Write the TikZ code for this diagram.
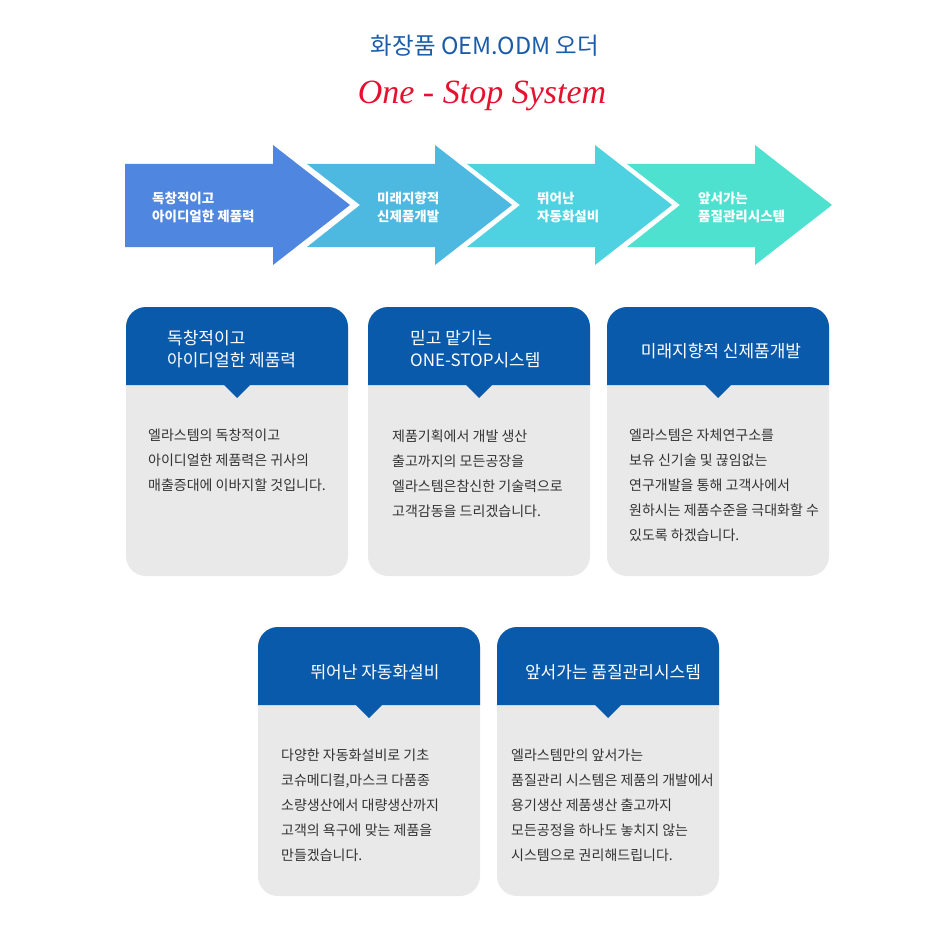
\documentclass[tikz,border=0pt]{standalone}
\usepackage{fontspec}
\setmainfont{Noto Sans CJK KR}
\newfontfamily\titleserif{Liberation Serif}
\usetikzlibrary{positioning}
\definecolor{navy}{HTML}{0A5AAB}
\definecolor{titleBlue}{HTML}{1B5CA8}
\definecolor{stopRed}{HTML}{E5112F}
\definecolor{arrowA}{HTML}{4F86DF}
\definecolor{arrowB}{HTML}{4DB8E0}
\definecolor{arrowC}{HTML}{4ED2E2}
\definecolor{arrowD}{HTML}{4FE1D0}
\definecolor{cardGray}{HTML}{E9E9E9}
\definecolor{ink}{HTML}{333333}

\begin{document}
\begin{tikzpicture}[x=1pt,y=-1pt,
  arrtxt/.style={text=white,font=\fontsize{13.5}{18}\selectfont\bfseries,
                 align=left,anchor=west,inner sep=0pt},
  card/.style={fill=cardGray,rounded corners=20pt,minimum width=222pt,
               minimum height=269pt,inner sep=0pt},
  head/.style={fill=navy},
  headtxt/.style={text=white,font=\fontsize{17}{22}\selectfont,align=left,inner sep=0pt},
  bodytxt/.style={text=ink,font=\fontsize{14}{25}\selectfont,align=left,
                  anchor=north west,inner sep=0pt}
]
  \useasboundingbox[fill=white] (0,0) rectangle (952,952);

  % title
  \node[text=titleBlue,font=\fontsize{23.5}{26}\selectfont] (title) at (485,46) {화장품 OEM.ODM 오더};
  \node[text=stopRed,font=\titleserif\itshape\fontsize{34}{38}\selectfont,anchor=base] (slogan) at (482,104) {One - Stop System};

  % process arrows
  \fill[arrowA] (125,164) -- (273,164) -- (273,145) -- (350,205) -- (273,265) -- (273,247) -- (125,247) -- cycle;
  \fill[arrowB] (307,164) -- (435,164) -- (435,145) -- (512,205) -- (435,265) -- (435,247) -- (307,247) -- (360,205) -- cycle;
  \fill[arrowC] (467,164) -- (595,164) -- (595,145) -- (672,205) -- (595,265) -- (595,247) -- (467,247) -- (520,205) -- cycle;
  \fill[arrowD] (627,164) -- (755,164) -- (755,145) -- (832,205) -- (755,265) -- (755,247) -- (627,247) -- (680,205) -- cycle;

  \node[arrtxt] (a1) at (152,207) {독창적이고\\아이디얼한 제품력};
  \node[arrtxt] (a2) at (377,207) {미래지향적\\신제품개발};
  \node[arrtxt] (a3) at (537,207) {뛰어난\\자동화설비};
  \node[arrtxt] (a4) at (698,207) {앞서가는\\품질관리시스템};

  % cards
  \node[card] (card1) at (237,441.5) {};
  \node[card] (card2) at (479,441.5) {};
  \node[card] (card3) at (718,441.5) {};
  \node[card] (card4) at (369,761.5) {};
  \node[card] (card5) at (608,761.5) {};

  \fill[head] (126,385) [rounded corners=20pt] -- (126,307) -- (348,307) [sharp corners] -- (348,385) -- cycle;
  \fill[head] (224,385) -- (237,398) -- (250,385) -- cycle;
  \fill[head] (368,385) [rounded corners=20pt] -- (368,307) -- (590,307) [sharp corners] -- (590,385) -- cycle;
  \fill[head] (466,385) -- (479,398) -- (492,385) -- cycle;
  \fill[head] (607,385) [rounded corners=20pt] -- (607,307) -- (829,307) [sharp corners] -- (829,385) -- cycle;
  \fill[head] (705,385) -- (718,398) -- (731,385) -- cycle;
  \fill[head] (258,705) [rounded corners=20pt] -- (258,627) -- (480,627) [sharp corners] -- (480,705) -- cycle;
  \fill[head] (356,705) -- (369,718) -- (382,705) -- cycle;
  \fill[head] (497,705) [rounded corners=20pt] -- (497,627) -- (719,627) [sharp corners] -- (719,705) -- cycle;
  \fill[head] (595,705) -- (608,718) -- (621,705) -- cycle;

  \node[headtxt,anchor=west] (h1) at (167,349) {독창적이고\\아이디얼한 제품력};
  \node[headtxt,anchor=west] (h2) at (410,349) {믿고 맡기는\\ONE-STOP시스템};
  \node[headtxt] (h3) at (721,351) {미래지향적 신제품개발};
  \node[headtxt] (h4) at (375,672) {뛰어난 자동화설비};
  \node[headtxt] (h5) at (613,672) {앞서가는 품질관리시스템};

  \node[bodytxt] (b1) at (148,429) {엘라스템의 독창적이고\\아이디얼한 제품력은 귀사의\\매출증대에 이바지할 것입니다.};
  \node[bodytxt] (b2) at (392,430) {제품기획에서 개발 생산\\출고까지의 모든공장을\\엘라스템은참신한 기술력으로\\고객감동을 드리겠습니다.};
  \node[bodytxt] (b3) at (629,429) {엘라스템은 자체연구소를\\보유 신기술 및 끊임없는\\연구개발을 통해 고객사에서\\원하시는 제품수준을 극대화할 수\\있도록 하겠습니다.};
  \node[bodytxt] (b4) at (281,749) {다양한 자동화설비로 기초\\코슈메디컬,마스크 다품종\\소량생산에서 대량생산까지\\고객의 욕구에 맞는 제품을\\만들겠습니다.};
  \node[bodytxt] (b5) at (511,749) {엘라스템만의 앞서가는\\품질관리 시스템은 제품의 개발에서\\용기생산 제품생산 출고까지\\모든공정을 하나도 놓치지 않는\\시스템으로 권리해드립니다.};
\end{tikzpicture}
\end{document}
